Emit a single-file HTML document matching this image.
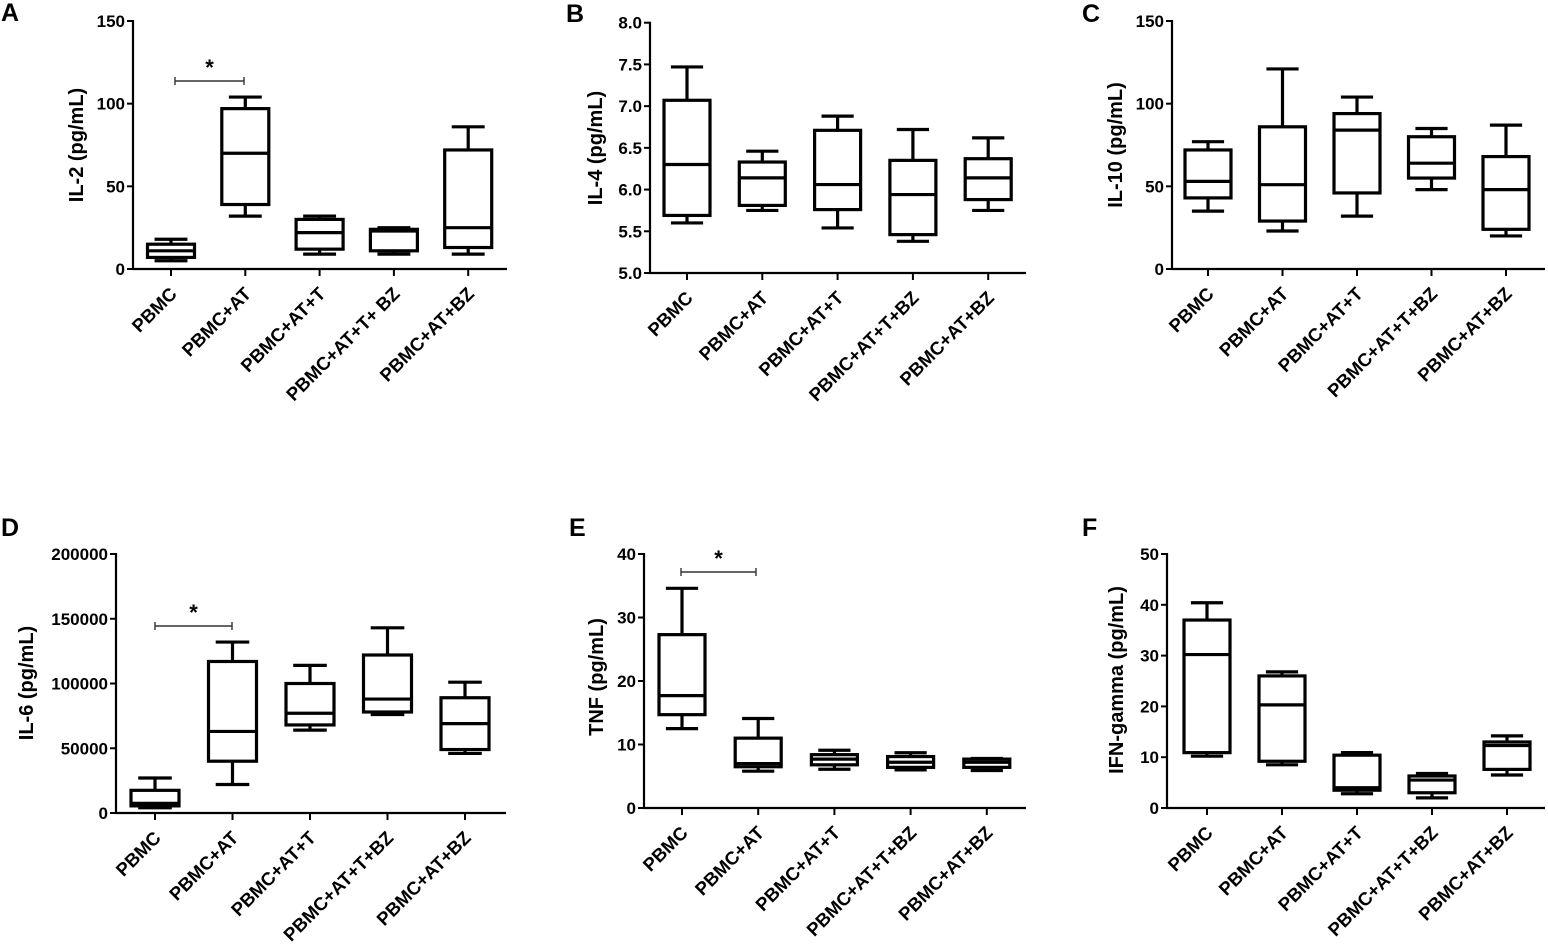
<!DOCTYPE html>
<html><head><meta charset="utf-8"><style>
html,body{margin:0;padding:0;background:#fff;}
svg{display:block;font-family:"Liberation Sans",Arial,sans-serif;font-weight:bold;}
</style></head>
<body>
<svg id="fig" width="1548" height="950" viewBox="0 0 1548 950" xmlns="http://www.w3.org/2000/svg"></svg>
<script>
// ---- data ----
const categoriesA = ["PBMC","PBMC+AT","PBMC+AT+T","PBMC+AT+T+ BZ","PBMC+AT+BZ"];
const categoriesStd = ["PBMC","PBMC+AT","PBMC+AT+T","PBMC+AT+T+BZ","PBMC+AT+BZ"];
// each box: [min, q1, median, q3, max]
const il2Boxes = [[5,7,11,15,18],[32,39,70,97,104],[9,12,22,30,32],[9,11,23,24,25],[9,13,25,72,86]];
const il2Ticks = [0,50,100,150];
const il4Boxes = [[5.6,5.69,6.3,7.07,7.47],[5.75,5.81,6.14,6.33,6.46],[5.54,5.76,6.06,6.71,6.88],[5.38,5.46,5.94,6.35,6.72],[5.75,5.88,6.14,6.37,6.62]];
const il4Ticks = [5.0,5.5,6.0,6.5,7.0,7.5,8.0];
const il10Boxes = [[35,43,53,72,77],[23,29,51,86,121],[32,46,84,94,104],[48,55,64,80,85],[20,24,48,68,87]];
const il10Ticks = [0,50,100,150];
const il6Boxes = [[4000,5500,7500,17500,27000],[22000,40000,63000,117000,132000],[64000,68000,77000,100000,114000],[76000,78000,88000,122000,143000],[46000,49000,69000,89000,101000]];
const il6Ticks = [0,50000,100000,150000,200000];
const tnfBoxes = [[12.5,14.7,17.7,27.3,34.6],[5.8,6.5,7.0,11.0,14.1],[6.1,6.8,7.7,8.4,9.1],[6.0,6.4,7.2,8.1,8.7],[5.9,6.4,7.2,7.7,7.8]];
const tnfTicks = [0,10,20,30,40];
const ifnBoxes = [[10.2,10.9,30.2,37,40.4],[8.5,9.2,20.3,26,26.8],[2.8,3.5,4,10.4,10.9],[2,3,5.5,6.3,6.8],[6.5,7.6,12.3,13,14.2]];
const ifnTicks = [0,10,20,30,40,50];

const NS="http://www.w3.org/2000/svg";
const svg=document.getElementById('fig');
function mk(tag,attrs,parent){const e=document.createElementNS(NS,tag);for(const k in attrs)e.setAttribute(k,attrs[k]);(parent||svg).appendChild(e);return e;}

function panel(cfg){
  const g=mk('g',{});
  
  
  const yv=v=>cfg.y0+(v-cfg.min)/(cfg.max-cfg.min)*(cfg.y1-cfg.y0);
  const xc=i=>cfg.xt0+i*cfg.dx;
  // letter
  const L=mk('text',{x:cfg.lx,y:cfg.ly,'font-size':25},g);L.textContent=cfg.letter;
  
  
  // y axis
  const ya=mk('line',{x1:cfg.ax,y1:yv(cfg.max)-1,x2:cfg.ax,y2:cfg.y0+1,stroke:'#000','stroke-width':2.2},g);
  
  
  const xa=mk('line',{x1:cfg.ax-1,y1:cfg.y0,x2:cfg.xend,y2:cfg.y0,stroke:'#000','stroke-width':2.2},g);
  
  
  cfg.ticks.forEach(t=>{
    const y=yv(t);
    mk('line',{x1:cfg.ax-6,y1:y,x2:cfg.ax,y2:y,stroke:'#000','stroke-width':2},g);
    const tx=mk('text',{x:cfg.ax-8,y:y+6,'font-size':cfg.tfs||17,'text-anchor':'end'},g);
    tx.textContent=cfg.fmt?cfg.fmt(t):String(t);
    
    
  });
  // y title
  const yt=mk('text',{transform:`translate(${cfg.ytx},${cfg.yty}) rotate(-90)`,'font-size':20,'text-anchor':'middle'},g);
  yt.textContent=cfg.ytitle;
  
  
  cfg.cats.forEach((c,i)=>{
    const x=xc(i);
    mk('line',{x1:x,y1:cfg.y0,x2:x,y2:cfg.y0+7,stroke:'#000','stroke-width':2},g);
    const t=mk('text',{transform:`translate(${x+7},${cfg.y0+26}) rotate(-45)`,'font-size':18.5,'text-anchor':'end'},g);
    t.textContent=c;
    
    
  });
  cfg.boxes.forEach((b,i)=>{
    const x=xc(i),w=cfg.bw,cw=w*0.7;
    const bg=mk('g',{stroke:'#000','stroke-width':3.2,fill:'none'},g);
    
    
    const [mn,q1,md,q3,mx]=b.map(yv);
    mk('line',{x1:x,y1:mx,x2:x,y2:q3},bg);
    mk('line',{x1:x,y1:q1,x2:x,y2:mn},bg);
    mk('line',{x1:x-cw/2,y1:mx,x2:x+cw/2,y2:mx},bg);
    mk('line',{x1:x-cw/2,y1:mn,x2:x+cw/2,y2:mn},bg);
    mk('rect',{x:x-w/2,y:q3,width:w,height:Math.max(q1-q3,0.1),fill:'#fff'},bg);
    mk('line',{x1:x-w/2,y1:md,x2:x+w/2,y2:md},bg);
  });
  if(cfg.sig){
    const sg=mk('g',{stroke:'#333','stroke-width':1.4},g);
    
    
    const [a,b2,y]=cfg.sig;
    mk('line',{x1:a,y1:y,x2:b2,y2:y},sg);
    mk('line',{x1:a,y1:y-4,x2:a,y2:y+4},sg);
    mk('line',{x1:b2,y1:y-4,x2:b2,y2:y+4},sg);
    const st=mk('text',{x:(a+b2)/2,y:y-6,'font-size':22,'text-anchor':'middle'},g);
    st.textContent='*';
    
    
  }
}
panel({name:'panel-a-il2',letter:'A',lx:1,ly:21,ax:133,xend:507,y0:269,y1:21,min:0,max:150,ticks:il2Ticks,cats:categoriesA,boxes:il2Boxes,xt0:171,dx:74.3,bw:47,ytitle:'IL-2 (pg/mL)',ytx:83,yty:145,sig:[175,244,81]});
panel({name:'panel-b-il4',letter:'B',lx:566,ly:22,ax:650,xend:1026,y0:273,y1:22.7,min:5,max:8,ticks:il4Ticks,fmt:v=>v.toFixed(1),cats:categoriesStd,boxes:il4Boxes,xt0:687,dx:75.3,bw:46,ytitle:'IL-4 (pg/mL)',ytx:602,yty:148});
panel({name:'panel-c-il10',letter:'C',lx:1082,ly:22,ax:1172,xend:1545,y0:269,y1:21,min:0,max:150,ticks:il10Ticks,cats:categoriesStd,boxes:il10Boxes,xt0:1208,dx:74.5,bw:46,ytitle:'IL-10 (pg/mL)',ytx:1122,yty:145});
panel({name:'panel-d-il6',letter:'D',lx:1,ly:536,ax:116,xend:506,y0:813,y1:554,min:0,max:200000,ticks:il6Ticks,cats:categoriesStd,boxes:il6Boxes,xt0:155,dx:77.5,bw:48,ytitle:'IL-6 (pg/mL)',ytx:33,yty:683,sig:[155,232,626]});
panel({name:'panel-e-tnf',letter:'E',lx:569,ly:536,ax:644,xend:1026,y0:808,y1:554,min:0,max:40,ticks:tnfTicks,cats:categoriesStd,boxes:tnfBoxes,xt0:682,dx:76.2,bw:46,ytitle:'TNF (pg/mL)',ytx:603,yty:677,sig:[681,756,572]});
panel({name:'panel-f-ifn-gamma',letter:'F',lx:1082,ly:536,ax:1167,xend:1545,y0:808,y1:554,min:0,max:50,ticks:ifnTicks,cats:categoriesStd,boxes:ifnBoxes,xt0:1207,dx:75,bw:46,ytitle:'IFN-gamma (pg/mL)',ytx:1123,yty:680});
</script>
</body></html>
